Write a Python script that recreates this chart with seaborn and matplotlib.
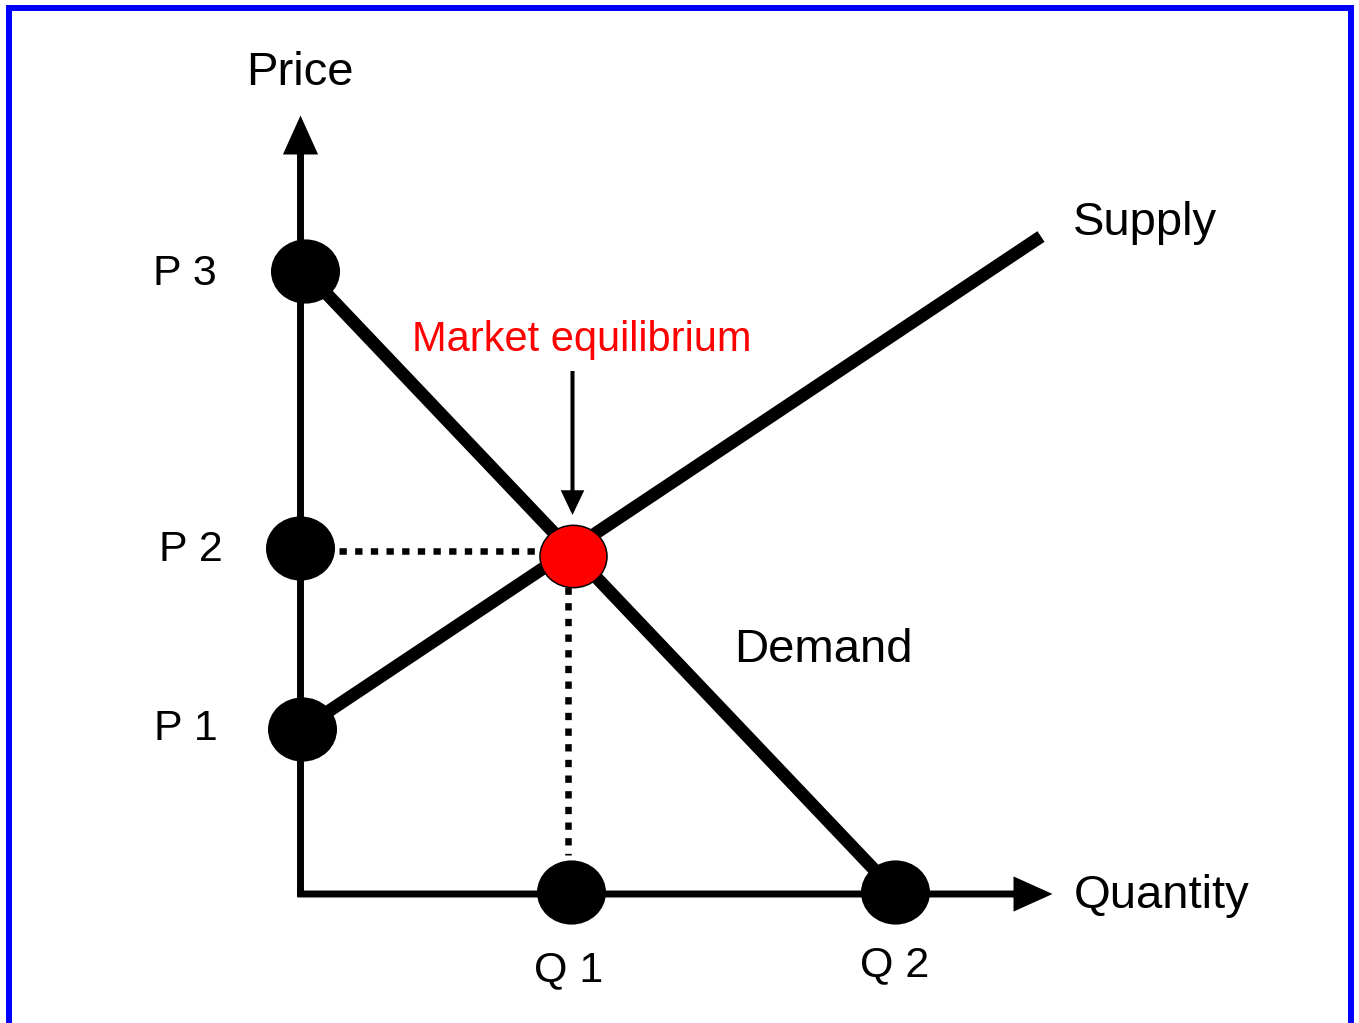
import matplotlib
matplotlib.use("Agg")
import matplotlib.pyplot as plt
import seaborn as sns
import pandas as pd
from matplotlib.path import Path
from matplotlib.transforms import Affine2D
from matplotlib.markers import MarkerStyle
from matplotlib.patches import Rectangle

# ---------------- data ----------------
price_labels = ["P 1", "P 2", "P 3"]
price_levels = [16.45, 34.55, 62.25]
price_dot_q = [0.15, -0.1, 0.45]

quantity_labels = ["Q 1", "Q 2"]
quantity_levels = [27.05, 59.45]
quantity_dot_p = [0.2, 0.2]

supply_q = [0.15, 74.05]
supply_p = [16.45, 65.7]

demand_q = [0.45, 59.45]
demand_p = [62.25, 0.2]

equilibrium_q = [27.25]
equilibrium_p = [33.75]

guide_h_q = [3.85, 23.5]
guide_h_p = [34.25, 34.25]
guide_v_q = [26.7, 26.7]
guide_v_p = [30.65, 3.85]

# ---------------- style ----------------
sns.set_theme(style="white")
plt.rcParams["font.family"] = ["Liberation Sans", "DejaVu Sans"]
plt.rcParams["text.color"] = "black"

W, H, DPI = 1359, 1023, 100
fig = plt.figure(figsize=(W / DPI, H / DPI), dpi=DPI)
ax = fig.add_axes([0, 0, 1, 1])
ax.set_xlim(-30.05, 105.85)
ax.set_ylim(-12.95, 89.35)
ax.axis("off")

# blue frame
fig.patches.append(Rectangle((8.5 / W, -0.05), (1351 - 8.5) / W, 1.05 - 8 / H,
                             transform=fig.transFigure, fill=False,
                             edgecolor="#0000FF", linewidth=4.3, zorder=0))

# axes with arrows
axis_arrow = dict(arrowstyle="-|>,head_length=1.95,head_width=0.88",
                  mutation_scale=10, lw=5, color="black",
                  shrinkA=0, shrinkB=0, joinstyle="miter", capstyle="butt")
ax.annotate("", xy=(0, 77.8), xytext=(0, -0.35), arrowprops=axis_arrow, zorder=1)
ax.annotate("", xy=(75.2, -0.05), xytext=(-0.3, -0.05), arrowprops=axis_arrow, zorder=1)

# supply & demand curves
sns.lineplot(x=supply_q, y=supply_p, ax=ax, color="black", lw=9.2,
             estimator=None, sort=False, solid_capstyle="butt", zorder=2)
sns.lineplot(x=demand_q, y=demand_p, ax=ax, color="black", lw=9.2,
             estimator=None, sort=False, solid_capstyle="butt", zorder=2)

# dotted guides
dot_style = (0, (1.12, 1.28))
sns.lineplot(x=guide_h_q, y=guide_h_p, ax=ax, color="black", lw=4.7,
             estimator=None, sort=False, linestyle=dot_style, zorder=2)
sns.lineplot(x=guide_v_q, y=guide_v_p, ax=ax, color="black", lw=4.7,
             estimator=None, sort=False, linestyle=dot_style, zorder=2)

# points
ell = MarkerStyle(Path.unit_circle().transformed(Affine2D().scale(1, 0.93)))
pts = pd.DataFrame({"q": price_dot_q + quantity_levels,
                    "p": price_levels + quantity_dot_p})
sns.scatterplot(data=pts, x="q", y="p", ax=ax, marker=ell, s=2470,
                color="black", edgecolor="black", linewidth=0, zorder=3)
sns.scatterplot(x=equilibrium_q, y=equilibrium_p, ax=ax, marker=ell, s=2330,
                color="#FF0000", edgecolor="black", linewidth=1.1, zorder=4)

# equilibrium annotation arrow
ax.annotate("", xy=(27.2, 37.85), xytext=(27.2, 52.25),
            arrowprops=dict(arrowstyle="-|>,head_length=1.3,head_width=0.62",
                            mutation_scale=10, lw=2.9, color="black",
                            shrinkA=0, shrinkB=0, joinstyle="miter",
                            capstyle="butt"), zorder=5)

# texts
ax.text(-0.1, 80.85, "Price", fontsize=34, color="black", ha="center", va="baseline")
ax.text(77.35, -1.45, "Quantity", fontsize=34, color="black", ha="left", va="baseline")
ax.text(77.25, 65.85, "Supply", fontsize=34, color="black", ha="left", va="baseline")
ax.text(43.4, 23.2, "Demand", fontsize=34, color="black", ha="left", va="baseline")
ax.text(11.15, 54.2, "Market equilibrium", fontsize=30, color="#FF0000",
        ha="left", va="baseline")

p_text_x = [-14.6, -14.15, -14.75]
p_text_y = [15.35, 33.25, 60.85]
for lab, tx, ty in zip(price_labels, p_text_x, p_text_y):
    ax.text(tx, ty, lab, fontsize=31, color="black", ha="left", va="baseline")

q_text_x = [23.35, 56.0]
q_text_y = [-8.8, -8.25]
for lab, tx, ty in zip(quantity_labels, q_text_x, q_text_y):
    ax.text(tx, ty, lab, fontsize=31, color="black", ha="left", va="baseline")

fig.savefig("out.png", dpi=DPI, facecolor="white")
